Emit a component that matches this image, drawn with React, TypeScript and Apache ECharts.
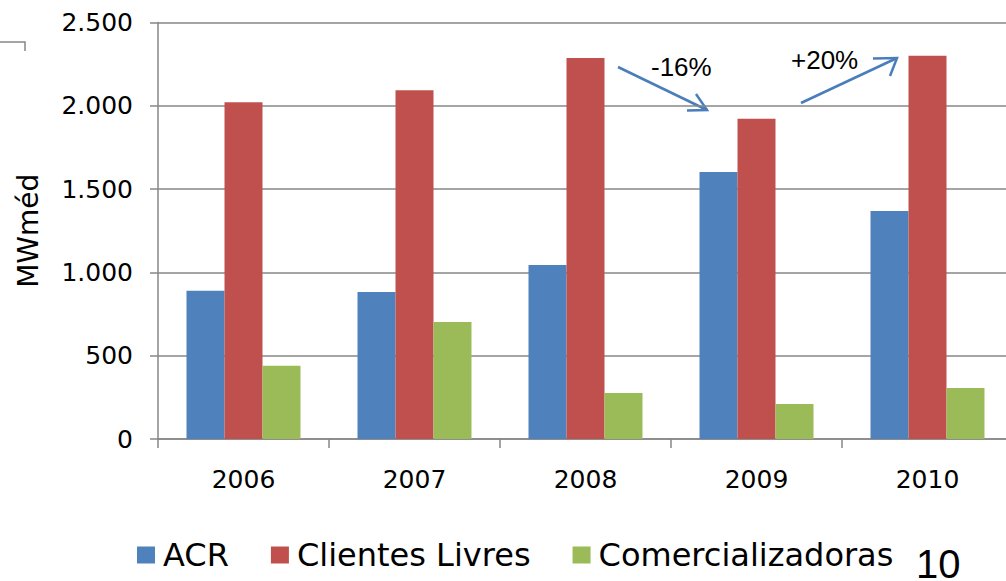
import React, { useEffect, useRef } from "react";
import * as echarts from "echarts";

const categories = ["2006", "2007", "2008", "2009", "2010"];
const acr = [890, 882, 1045, 1603, 1368];
const clientesLivres = [2022, 2094, 2287, 1923, 2301];
const comercializadoras = [440, 702, 276, 210, 306];
const yTicks = [0, 500, 1000, 1500, 2000, 2500];
const seriesNames = ["ACR", "Clientes Livres", "Comercializadoras"];
const colors = ["#4F81BD", "#C0504D", "#9BBB59"];

const FONT = "'DejaVu Sans', Verdana, sans-serif";
const SANS2 = "'Liberation Sans', Arial, sans-serif";
const GRAY = "#878787";
const ARROW = "#4A7EBB";

function fmt(v: number) {
  return String(v).replace(/\B(?=(\d{3})+(?!\d))/g, ".");
}

export default function App() {
  const ref = useRef<HTMLDivElement>(null);
  useEffect(() => {
    if (!ref.current) return;
    const chart = echarts.init(ref.current, null, { renderer: "svg" });
    const dataSets = [acr, clientesLivres, comercializadoras];
    chart.setOption({
      animation: false,
      backgroundColor: "#ffffff",
      textStyle: { fontFamily: FONT },
      grid: { left: 158, top: 22.5, right: 0, bottom: 142, containLabel: false },
      legend: {
        data: seriesNames,
        left: 137,
        top: 538,
        padding: 0,
        itemWidth: 18,
        itemHeight: 17,
        itemGap: 42,
        icon: "rect",
        textStyle: { fontSize: 32, color: "#000", fontFamily: FONT, lineHeight: 34, padding: [0, 0, 0, 3] },
      },
      xAxis: {
        type: "category",
        data: categories,
        axisLine: { lineStyle: { color: GRAY, width: 1.5 } },
        axisTick: { show: true, length: 9, lineStyle: { color: GRAY, width: 1.5 } },
        axisLabel: { fontSize: 25, color: "#000", margin: 28, fontFamily: FONT },
      },
      yAxis: {
        type: "value",
        min: 0,
        max: yTicks[yTicks.length - 1],
        interval: 500,
        name: "MWméd",
        nameLocation: "middle",
        nameRotate: 90,
        nameGap: 116,
        nameTextStyle: { fontSize: 28, color: "#000", fontFamily: FONT },
        axisLine: { show: true, lineStyle: { color: GRAY, width: 1.5 } },
        axisTick: { show: true, length: 8, lineStyle: { color: GRAY, width: 1.5 } },
        axisLabel: { fontSize: 25, color: "#000", margin: 25, fontFamily: FONT, formatter: (v: number) => fmt(v) },
        splitLine: { show: true, lineStyle: { color: GRAY, width: 1.5 } },
      },
      series: seriesNames.map((n, i) => ({
        name: n,
        type: "bar",
        data: dataSets[i],
        barWidth: 38,
        barGap: "0%",
        itemStyle: { color: colors[i] },
      })),
      graphic: [
        {
          type: "polyline",
          shape: { points: [[0, 42], [25, 42], [25, 51]] },
          style: { stroke: GRAY, lineWidth: 1.5, fill: null },
        },
        { type: "line", shape: { x1: 618, y1: 67, x2: 707, y2: 110 }, style: { stroke: ARROW, lineWidth: 2.5 } },
        {
          type: "polyline",
          shape: { points: [[687, 110.5], [707, 110], [696, 94]] },
          style: { stroke: ARROW, lineWidth: 2.5, fill: null },
        },
        { type: "line", shape: { x1: 801, y1: 103, x2: 897, y2: 58 }, style: { stroke: ARROW, lineWidth: 2.5 } },
        {
          type: "polyline",
          shape: { points: [[873, 58.5], [897, 58], [890, 76]] },
          style: { stroke: ARROW, lineWidth: 2.5, fill: null },
        },
        {
          type: "text",
          left: 651,
          top: 54,
          style: { text: "-16%", fontSize: 26, fill: "#000", fontFamily: SANS2 },
        },
        {
          type: "text",
          left: 791,
          top: 47,
          style: { text: "+20%", fontSize: 26, fill: "#000", fontFamily: SANS2 },
        },
        {
          type: "text",
          left: 916,
          top: 544,
          style: { text: "10", fontSize: 40, fill: "#000", fontFamily: SANS2 },
        },
      ],
    });
    return () => chart.dispose();
  }, []);
  return (
    <div style={{ position: "absolute", left: 0, top: 0, width: 1006, height: 581, overflow: "hidden" }}>
      <div ref={ref} style={{ width: 1013, height: 581 }} />
    </div>
  );
}
